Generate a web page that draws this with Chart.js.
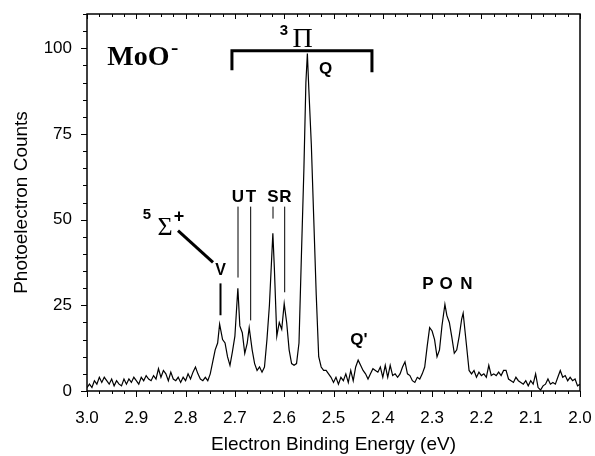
<!DOCTYPE html>
<html>
<head>
<meta charset="utf-8">
<script src="https://cdn.jsdelivr.net/npm/chart.js@4"></script>
<style>
  html, body { margin: 0; padding: 0; background: #fff; }
  #wrap { width: 595px; height: 456px; }
</style>
</head>
<body>
<div id="wrap"><canvas id="spec" width="595" height="456"></canvas></div>
<script>
/* ---------- data ---------- */
const energies = [
  3.000, 2.995, 2.990, 2.985, 2.980, 2.975, 2.970, 2.965, 2.960, 2.955,
  2.950, 2.945, 2.940, 2.935, 2.930, 2.925, 2.920, 2.915, 2.910, 2.905,
  2.900, 2.895, 2.890, 2.885, 2.880, 2.875, 2.870, 2.865, 2.860, 2.855,
  2.850, 2.845, 2.840, 2.835, 2.830, 2.825, 2.820, 2.815, 2.810, 2.805,
  2.800, 2.795, 2.790, 2.785, 2.780, 2.775, 2.770, 2.765, 2.760, 2.755,
  2.750, 2.745, 2.740, 2.735, 2.731, 2.725, 2.720, 2.715, 2.710, 2.705,
  2.700, 2.694, 2.690, 2.685, 2.680, 2.675, 2.671, 2.665, 2.660, 2.655,
  2.650, 2.645, 2.640, 2.635, 2.630, 2.623, 2.620, 2.615, 2.610, 2.605,
  2.600, 2.595, 2.590, 2.585, 2.580, 2.575, 2.570, 2.565, 2.560, 2.556,
  2.553, 2.550, 2.545, 2.540, 2.535, 2.530, 2.525, 2.520, 2.515, 2.510,
  2.505, 2.500, 2.495, 2.490, 2.485, 2.480, 2.475, 2.470, 2.465, 2.460,
  2.455, 2.450, 2.445, 2.440, 2.435, 2.430, 2.425, 2.420, 2.415, 2.410,
  2.405, 2.400, 2.395, 2.390, 2.385, 2.380, 2.375, 2.370, 2.365, 2.360,
  2.355, 2.350, 2.345, 2.340, 2.335, 2.330, 2.325, 2.320, 2.315, 2.310,
  2.305, 2.300, 2.295, 2.290, 2.285, 2.280, 2.274, 2.270, 2.265, 2.260,
  2.255, 2.250, 2.245, 2.240, 2.237, 2.230, 2.225, 2.220, 2.215, 2.210,
  2.205, 2.200, 2.195, 2.190, 2.185, 2.180, 2.175, 2.170, 2.165, 2.160,
  2.155, 2.150, 2.145, 2.140, 2.135, 2.130, 2.125, 2.120, 2.115, 2.110,
  2.105, 2.100, 2.095, 2.090, 2.085, 2.080, 2.075, 2.070, 2.065, 2.060,
  2.055, 2.050, 2.045, 2.040, 2.035, 2.030, 2.025, 2.020, 2.015, 2.010,
  2.005, 2.000
];
const counts = [
  1, 2, 1, 3, 2, 4, 2.5, 4, 3, 2,
  3.5, 1.5, 3, 2, 1.5, 3.5, 2, 3.5, 2.5, 4,
  3, 2, 4, 3, 4.5, 3.5, 3, 4.5, 3.5, 6.5,
  4, 6, 5, 3, 5.5, 3.5, 3, 4, 2.5, 4,
  3, 5, 3.5, 5.5, 7, 5, 3.5, 3, 4, 3,
  5, 8.5, 12, 14, 19.5, 15, 14, 10, 7.5, 11.5,
  16, 30, 19, 17, 11, 14, 18.5, 12, 8, 6,
  7, 5.5, 7, 15, 25, 46, 36, 16, 20, 18,
  25.5, 20, 12, 8, 7.5, 8, 14, 40, 65, 90,
  98.5, 88, 72, 50, 28, 10, 7, 6, 6, 5,
  4, 2.5, 4, 2, 4, 3, 5, 2.5, 6, 3,
  7, 9, 7.5, 6, 5, 3.5, 5, 6.5, 6, 5.5,
  7, 4, 7.5, 4, 7.5, 4.5, 5, 4, 5, 7,
  8.5, 5, 4.5, 3, 2.5, 4, 3.5, 5, 7, 13,
  18.5, 17.5, 15, 10, 12, 19, 25.3, 22, 20, 15.7,
  11, 12, 16, 21, 22.7, 13, 6, 5, 6, 4,
  5.5, 4.5, 5, 4, 7.5, 4.5, 5, 4.5, 5.5, 4.5,
  6, 6, 3.5, 3, 2.5, 4, 3, 2.5, 2, 3,
  1.5, 3, 2, 5, 1, 0.3, 1.5, 2, 3.5, 2,
  2.5, 2, 4, 6, 4, 4.5, 3, 4, 3, 3.5,
  1.5, 2
];
const xRange = [2.0, 3.0];
const yRange = [0, 110];
const xLabelStep = 0.1;
const yLabelStep = 25;

/* ---------- annotations (energy, counts) ---------- */
const SANS = '"Liberation Sans", Arial, sans-serif';
const SERIF = '"Liberation Serif", "Times New Roman", serif';

const noteTexts = [
  // text, energy, counts, font, align, baseline
  ['MoO', 2.959, 95.0, 'bold 28px ' + SERIF, 'left', 'alphabetic'],
  ['-', 2.8296, 98.4, 'bold 22px ' + SERIF, 'left', 'alphabetic'],
  ['3', 2.6004, 105.0, 'bold 15px ' + SANS, 'center', 'middle'],
  ['\u03A0', 2.5629, 100.3, '28px ' + SERIF, 'center', 'alphabetic'],
  ['Q', 2.5162, 93.75, 'bold 17px ' + SANS, 'center', 'middle'],
  ['U', 2.6937, 56.4, 'bold 17px ' + SANS, 'center', 'middle'],
  ['T', 2.6673, 56.4, 'bold 17px ' + SANS, 'center', 'middle'],
  ['S', 2.6227, 56.4, 'bold 17px ' + SANS, 'center', 'middle'],
  ['R', 2.5974, 56.4, 'bold 17px ' + SANS, 'center', 'middle'],
  ['V', 2.7292, 35.2, 'bold 16px ' + SANS, 'center', 'middle'],
  ['5', 2.8783, 51.5, 'bold 15px ' + SANS, 'center', 'middle'],
  ['\u03A3', 2.8418, 45.6, '26px ' + SERIF, 'center', 'alphabetic'],
  ['+', 2.8134, 50.9, 'bold 18px ' + SANS, 'center', 'middle'],
  ["Q'", 2.4483, 14.7, 'bold 17px ' + SANS, 'center', 'middle'],
  ['P', 2.3083, 31.0, 'bold 17px ' + SANS, 'center', 'middle'],
  ['O', 2.2718, 31.0, 'bold 17px ' + SANS, 'center', 'middle'],
  ['N', 2.2302, 31.0, 'bold 17px ' + SANS, 'center', 'middle']
];

const noteLines = [
  // points, line width
  [[[2.706, 93.6], [2.706, 99.3], [2.422, 99.3], [2.422, 93.0]], 3],
  [[[2.6937, 53.8], [2.6937, 33.1]], 1],
  [[[2.668, 53.8], [2.668, 20.6]], 1],
  [[[2.6227, 53.8], [2.6227, 50.3]], 1],
  [[[2.599, 53.8], [2.599, 28.8]], 1],
  [[[2.7292, 31.4], [2.7292, 22.1]], 2],
  [[[2.8154, 46.8], [2.7444, 37.5]], 3]
];

function onStep(v, step) {
  const r = v / step;
  return Math.abs(r - Math.round(r)) < 1e-6;
}

/* ---------- frame, tick marks and labels ---------- */
const decor = {
  id: 'decor',
  afterDatasetsDraw(chart) {
    const { ctx, chartArea: a, scales: { x, y } } = chart;
    ctx.save();
    ctx.strokeStyle = '#000';
    ctx.fillStyle = '#000';

    ctx.lineWidth = 1;
    ctx.beginPath();
    x.ticks.forEach(t => {
      const px = Math.round(x.getPixelForValue(t.value)) + 0.5;
      const major = onStep(t.value, xLabelStep);
      ctx.moveTo(px, a.bottom);
      ctx.lineTo(px, a.bottom + (major ? 6 : 3));
      ctx.moveTo(px, a.top);
      ctx.lineTo(px, a.top + (major ? 5 : 3));
    });
    y.ticks.forEach(t => {
      const py = Math.round(y.getPixelForValue(t.value)) + 0.5;
      const major = onStep(t.value, yLabelStep);
      ctx.moveTo(a.left, py);
      ctx.lineTo(a.left - (major ? 6 : 4), py);
    });
    ctx.stroke();

    ctx.lineWidth = 1.5;
    ctx.strokeRect(a.left, a.top, a.right - a.left, a.bottom - a.top);

    noteLines.forEach(([pts, w]) => {
      ctx.lineWidth = w;
      ctx.lineJoin = 'miter';
      ctx.beginPath();
      pts.forEach(([e, c], i) => {
        const px = x.getPixelForValue(e), py = y.getPixelForValue(c);
        if (i === 0) ctx.moveTo(px, py); else ctx.lineTo(px, py);
      });
      ctx.stroke();
    });

    noteTexts.forEach(([txt, e, c, font, align, base]) => {
      ctx.font = font;
      ctx.textAlign = align;
      ctx.textBaseline = base;
      ctx.fillText(txt, x.getPixelForValue(e), y.getPixelForValue(c));
    });
    ctx.restore();
  }
};

/* ---------- chart ---------- */
new Chart(document.getElementById('spec'), {
  type: 'line',
  data: {
    datasets: [{
      data: energies.map((e, i) => ({ x: e, y: counts[i] })),
      borderColor: '#000',
      borderWidth: 1.2,
      pointRadius: 0,
      tension: 0,
      fill: false
    }]
  },
  options: {
    responsive: false,
    animation: false,
    layout: { padding: { top: 14, right: 15, left: 0, bottom: 0 } },
    plugins: { legend: { display: false }, tooltip: { enabled: false } },
    scales: {
      x: {
        type: 'linear',
        reverse: true,
        min: xRange[0],
        max: xRange[1],
        border: { display: false },
        grid: { display: true, drawOnChartArea: false, drawTicks: false },
        ticks: {
          stepSize: 0.025,
          autoSkip: false,
          maxRotation: 0,
          padding: 17,
          color: '#000',
          font: { family: SANS, size: 17 },
          callback: v => onStep(v, xLabelStep) ? v.toFixed(1) : ''
        },
        title: {
          display: true,
          text: 'Electron Binding Energy (eV)',
          color: '#000',
          font: { family: SANS, size: 19 },
          padding: { top: 0, bottom: 0 }
        },
        afterFit: s => { s.height = 65; s.paddingLeft = 0; s.paddingRight = 0; }
      },
      y: {
        min: yRange[0],
        max: yRange[1],
        border: { display: false },
        grid: { display: true, drawOnChartArea: false, drawTicks: false },
        ticks: {
          stepSize: 5,
          autoSkip: false,
          padding: 15,
          color: '#000',
          font: { family: SANS, size: 17 },
          callback: v => onStep(v, yLabelStep) ? String(v) : ''
        },
        title: {
          display: true,
          text: 'Photoelectron Counts',
          color: '#000',
          font: { family: SANS, size: 19 },
          padding: { top: 10, bottom: 0 }
        },
        afterFit: s => { s.width = 87; s.paddingTop = 0; s.paddingBottom = 0; }
      }
    }
  },
  plugins: [decor]
});
</script>
</body>
</html>
